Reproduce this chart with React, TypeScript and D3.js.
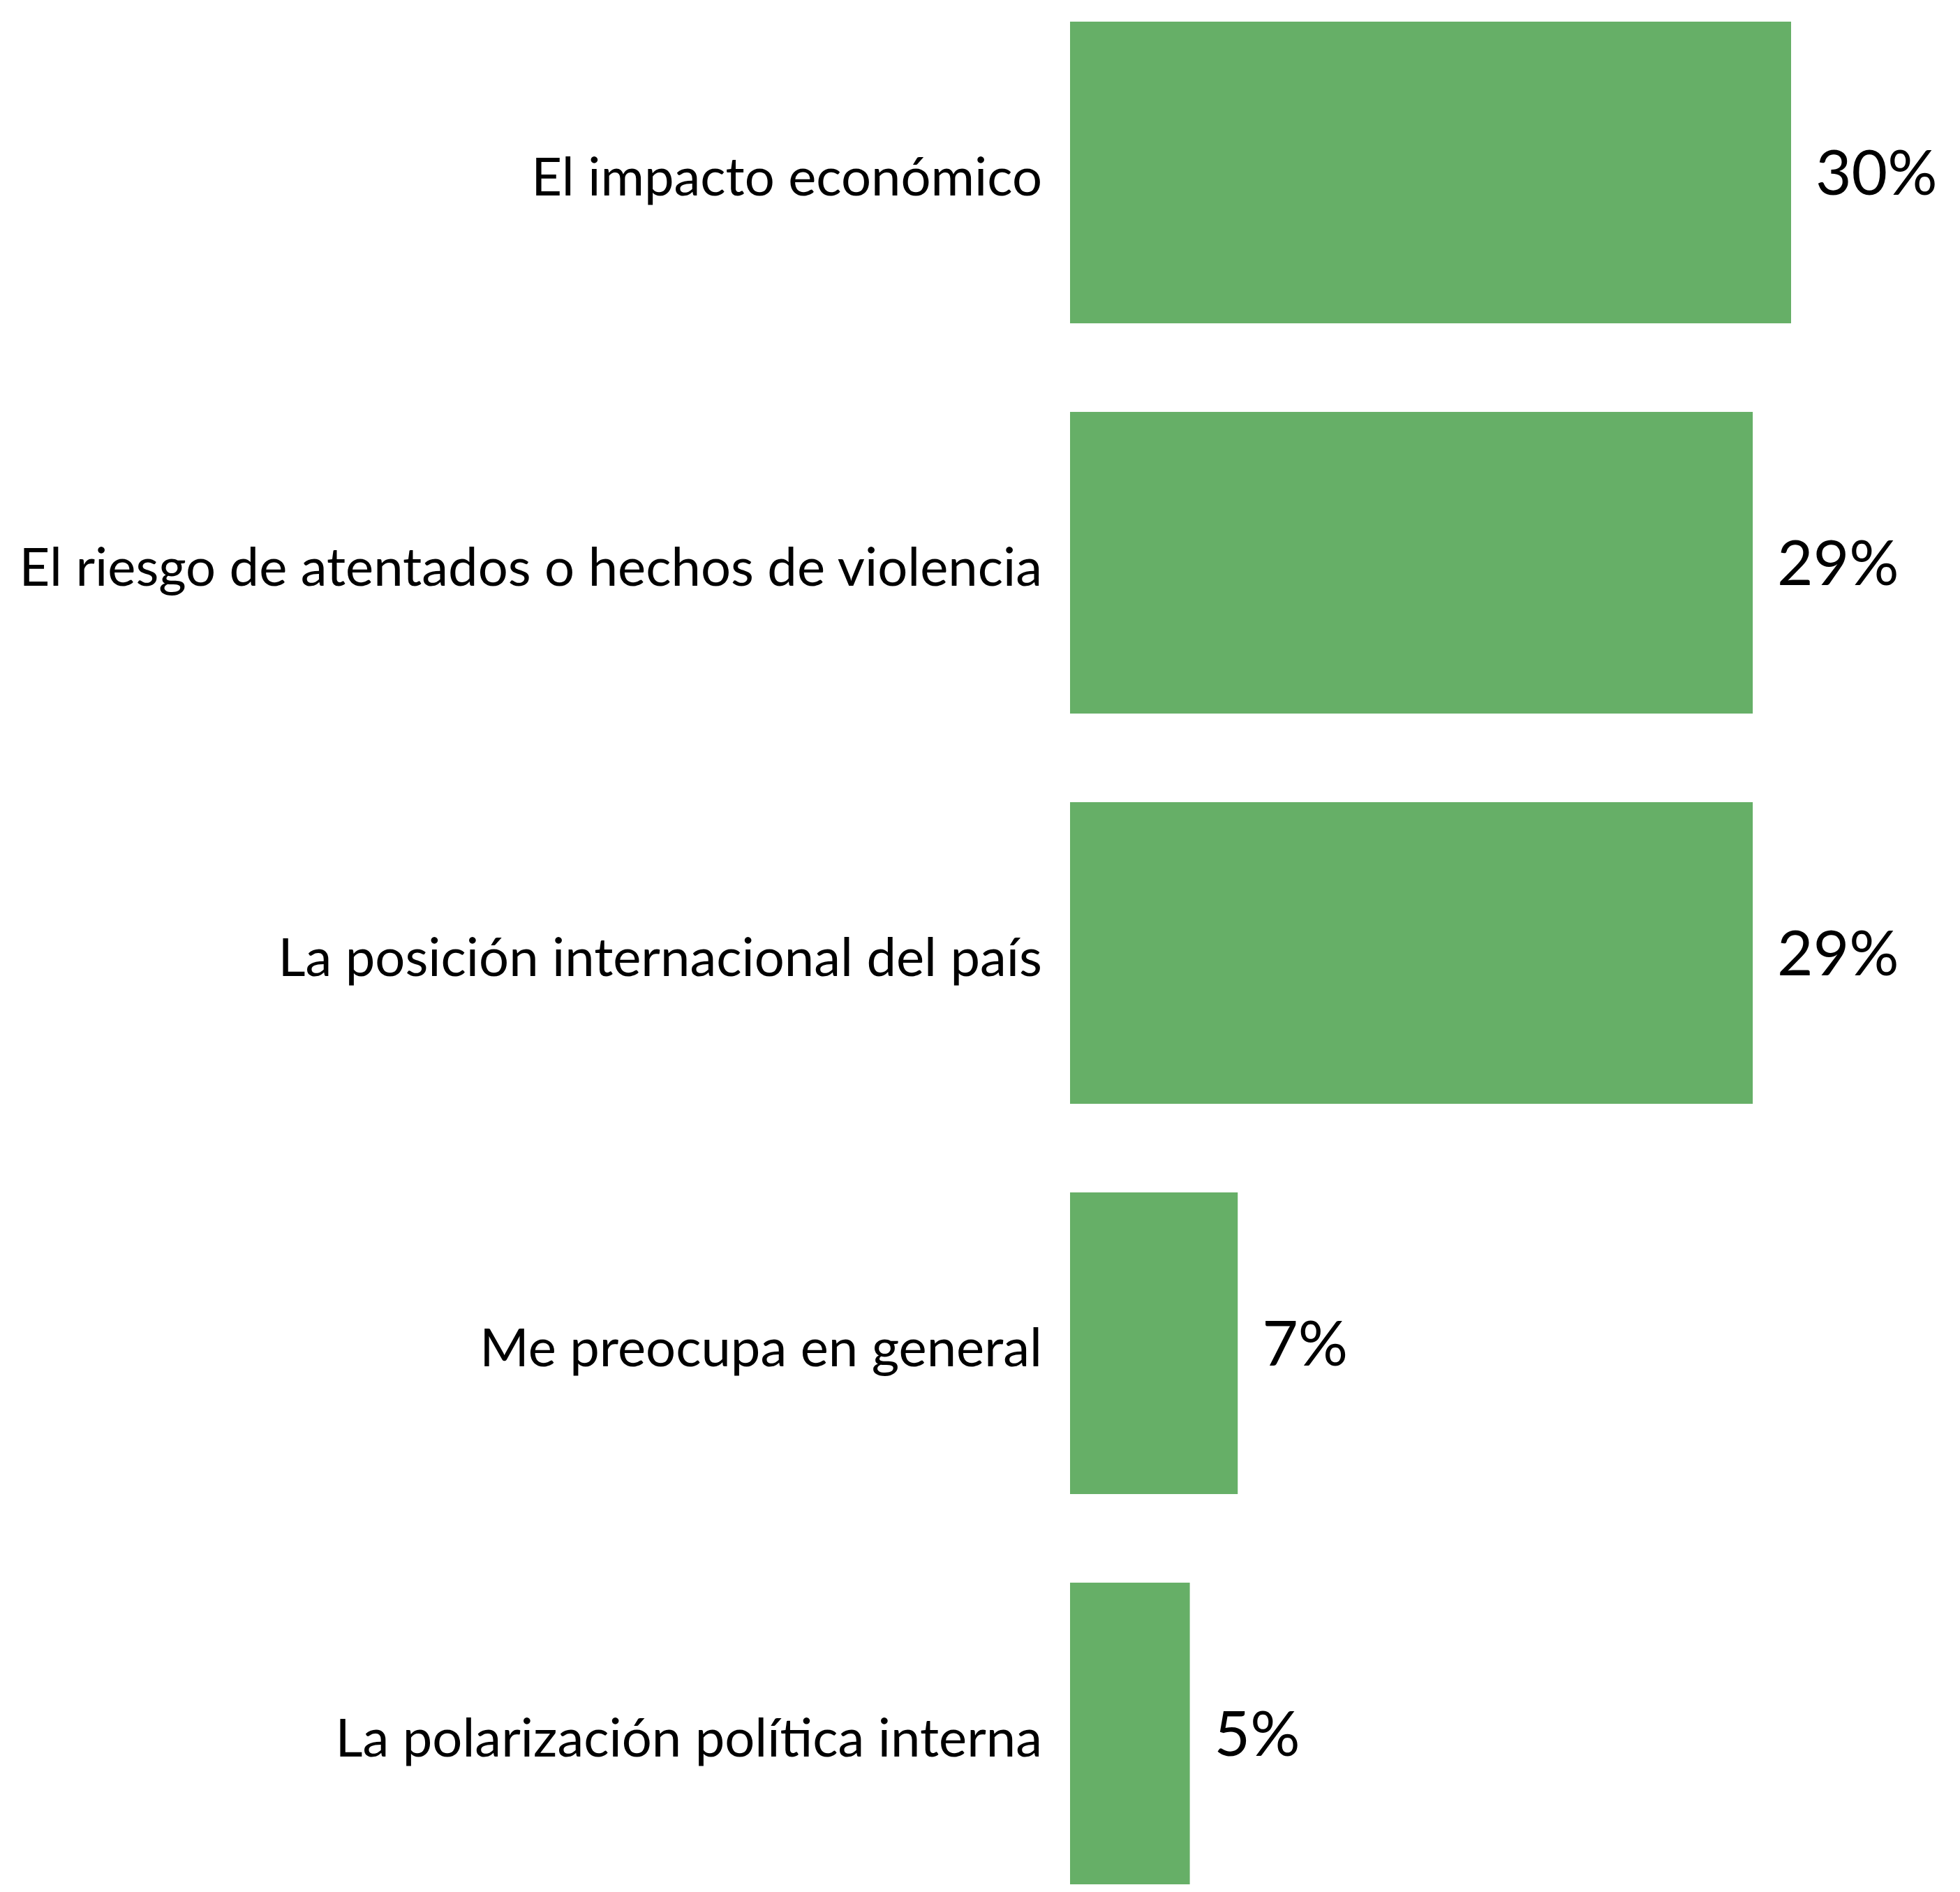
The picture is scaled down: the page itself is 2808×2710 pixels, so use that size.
import React, { useEffect, useRef } from "react";
import * as d3 from "d3";

const categories = [
  "El impacto económico",
  "El riesgo de atentados o hechos de violencia",
  "La posición internacional del país",
  "Me preocupa en general",
  "La polarización política interna",
];
const values = [30.1, 28.5, 28.5, 7.0, 5.0];
const valueLabels = ["30%", "29%", "29%", "7%", "5%"];

const width = 2808;
const height = 2710;

export default function App() {
  const ref = useRef<SVGSVGElement | null>(null);

  useEffect(() => {
    document.body.style.margin = "0";
    const svg = d3.select(ref.current);
    svg.selectAll("*").remove();

    const x = d3.scaleLinear().domain([0, 30.1]).range([1533, 2566]);
    const y = d3
      .scaleBand<string>()
      .domain(categories)
      .range([31, 2699])
      .paddingInner(0.227)
      .paddingOuter(0);

    const rows = svg
      .selectAll("g.row")
      .data(categories)
      .enter()
      .append("g")
      .attr("class", "row");

    rows
      .append("rect")
      .attr("x", x(0))
      .attr("y", (d) => y(d)!)
      .attr("width", (d, i) => x(values[i]) - x(0))
      .attr("height", y.bandwidth())
      .attr("fill", "#66af67");

    // category labels on the left
    rows
      .append("text")
      .attr("x", x(0) - 40)
      .attr("y", (d) => y(d)! + y.bandwidth() / 2 + 33)
      .attr("text-anchor", "end")
      .style("font-family", "Lato, 'Open Sans', sans-serif")
      .style("font-size", "76px")
      .attr("fill", "#000")
      .text((d) => d);

    // value labels at bar end
    rows
      .append("text")
      .attr("x", (d, i) => x(values[i]) + 35)
      .attr("y", (d) => y(d)! + y.bandwidth() / 2 + 32)
      .style("font-family", "Lato, 'Open Sans', sans-serif")
      .style("font-size", "89px")
      .attr("fill", "#000")
      .text((d, i) => valueLabels[i]);
  }, []);

  return (
    <svg
      ref={ref}
      width={width}
      height={height}
      style={{ display: "block", background: "#fff" }}
    />
  );
}
